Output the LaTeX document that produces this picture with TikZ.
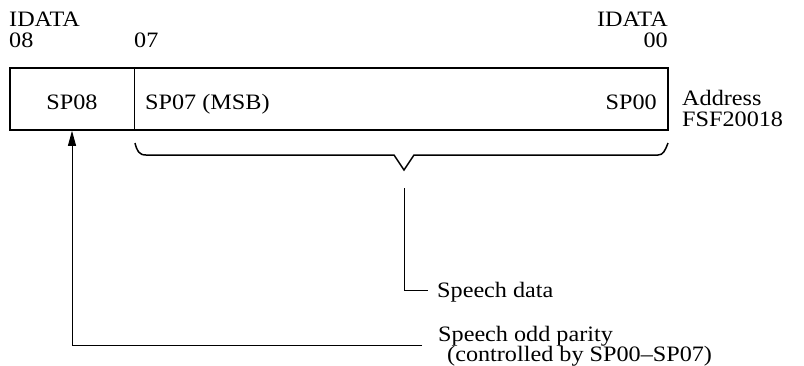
\documentclass[tikz,border=0pt]{standalone}
\usepackage{fontspec}
\setmainfont{Liberation Serif}[FakeStretch=1.1]
\usetikzlibrary{arrows.meta}
\begin{document}
\begin{tikzpicture}[x=1pt,y=-1pt,
  lbl/.style={inner sep=0pt,font=\fontsize{22}{24}\selectfont},
  thick box/.style={line width=1.6pt},
  thin line/.style={line width=0.9pt}]
\useasboundingbox (0,0) rectangle (804,365);
% top labels
\node[lbl,anchor=base west] (i08) at (9,26) {IDATA};
\node[lbl,anchor=base west] (n08) at (9,47) {08};
\node[lbl,anchor=base west] (n07) at (134,47) {07};
\node[lbl,anchor=base east] (i00) at (668,26) {IDATA};
\node[lbl,anchor=base east] (n00) at (668,47) {00};
% register
\node[thick box,draw,minimum width=658pt,minimum height=62pt,inner sep=0pt] (reg) at (339,99) {};
\coordinate (dv) at (134,99);
\draw[thin line] (dv |- reg.north) -- (dv |- reg.south);
\node[lbl,anchor=base] (sp08) at (72,109) {SP08};
\node[lbl,anchor=base west] (sp07) at (145,109) {SP07 (MSB)};
\node[lbl,anchor=base east] (sp00) at (657,109) {SP00};
\node[lbl,anchor=base west] (addr) at (682,105) {Address};
\node[lbl,anchor=base west] (fsf) at (682,126) {FSF20018};
% brace
\coordinate (bl) at (135,143);
\coordinate (br) at (668,143);
\coordinate (bt) at (404,170);
\draw[line width=1.5pt,line join=miter] (bl) .. controls (137,151) and (139,155) .. (146,155) -- (394,155) -- (bt) -- (414,155) -- (658,155) .. controls (663,155) and (665,151) .. (br);
% speech data
\node[lbl,anchor=base west] (sd) at (437,297) {Speech data};
\coordinate (sdc) at (404,290);
\draw[thin line] (404,188) -- (sdc) -- (428,290);
% parity
\node[lbl,anchor=base west] (po) at (438,341) {Speech odd parity};
\node[lbl,anchor=base west] (po2) at (447,361) {(controlled by SP00--SP07)};
\coordinate (pc) at (72,345);
\coordinate (pe) at (422,345);
\draw[thin line,-{Triangle[length=15pt,width=8pt]}] (pe) -- (pc) -- (pc |- reg.south);
\end{tikzpicture}
\end{document}
